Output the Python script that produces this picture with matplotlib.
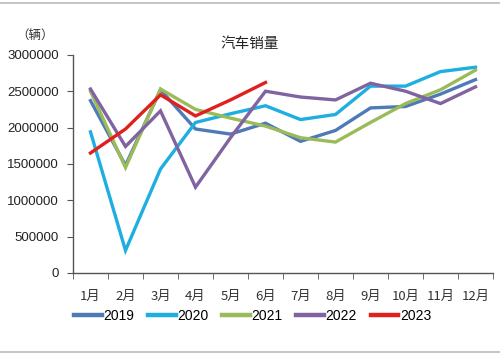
import numpy as np
import matplotlib
matplotlib.use("Agg")
import matplotlib.pyplot as plt

plt.rcParams['font.family'] = ['Liberation Sans', 'Noto Sans CJK SC', 'DejaVu Sans']

# monthly car sales (vehicles)
months = ['1月', '2月', '3月', '4月', '5月', '6月', '7月', '8月', '9月', '10月', '11月', '12月']
sales_2019 = [2370000, 1480000, 2520000, 1980000, 1910000, 2060000, 1810000, 1960000, 2270000, 2290000, 2460000, 2660000]
sales_2020 = [1940000, 310000, 1430000, 2070000, 2190000, 2300000, 2110000, 2180000, 2570000, 2570000, 2770000, 2830000]
sales_2021 = [2500000, 1450000, 2530000, 2250000, 2130000, 2020000, 1860000, 1800000, 2070000, 2330000, 2520000, 2790000]
sales_2022 = [2530000, 1740000, 2230000, 1180000, 1860000, 2500000, 2420000, 2380000, 2610000, 2500000, 2330000, 2560000]
sales_2023 = [1650000, 1980000, 2450000, 2160000, 2380000, 2620000]

series = [('2019', sales_2019, '#4E7AB8'),
          ('2020', sales_2020, '#1EAEE0'),
          ('2021', sales_2021, '#9BBB59'),
          ('2022', sales_2022, '#8064A2'),
          ('2023', sales_2023, '#E0201E')]

fig = plt.figure(figsize=(5, 3.54), dpi=100)
ax = fig.add_axes([0.146, 0.229, 0.84, 0.616])

for name, vals, col in series:
    ax.plot(np.arange(len(vals)), vals, color=col, lw=2.4, label=name, solid_joinstyle='miter')

ax.set_xlim(-0.5, 11.5)
ax.set_ylim(0, 3000000)
ax.set_yticks(np.arange(0, 3000001, 500000))
ax.set_yticklabels([str(v) for v in range(0, 3000001, 500000)], fontsize=9.5, color='#222222')
ax.set_xticks(np.arange(12))
ax.set_xticklabels(months, fontsize=9.5, color='#333333', family=['Noto Sans CJK SC'])
ax.set_xticks(np.arange(-0.5, 12, 1), minor=True)
ax.tick_params(axis='x', which='major', length=0, pad=12)
ax.tick_params(axis='x', which='minor', length=4, color='#555555')
ax.tick_params(axis='y', length=4, color='#555555', pad=6)

for s in ['top', 'right']:
    ax.spines[s].set_visible(False)
for s in ['left', 'bottom']:
    ax.spines[s].set_color('#555555')
    ax.spines[s].set_linewidth(1.0)

fig.text(0.5, 0.875, '汽车销量', ha='center', va='center', fontsize=10.5,
         family=['Noto Sans CJK SC'], color='#222222')
fig.text(0.07, 0.9, '（辆）', ha='center', va='center', fontsize=9,
         family=['Noto Sans CJK SC'], color='#333333')

leg = ax.legend(loc='center', ncol=5, frameon=False, fontsize=10,
                handlelength=2.0, handletextpad=0.1, columnspacing=1.0,
                bbox_to_anchor=(0.505, 0.107), bbox_transform=fig.transFigure)
for line in leg.get_lines():
    line.set_linewidth(3.2)

# thin frame lines at top and bottom of the image
fig.add_artist(plt.Line2D([0, 1], [0.992, 0.992], color='#BBBBBB', lw=1.2))
fig.add_artist(plt.Line2D([0, 1], [0.006, 0.006], color='#BBBBBB', lw=1.2))

fig.savefig('out.png', dpi=100)
